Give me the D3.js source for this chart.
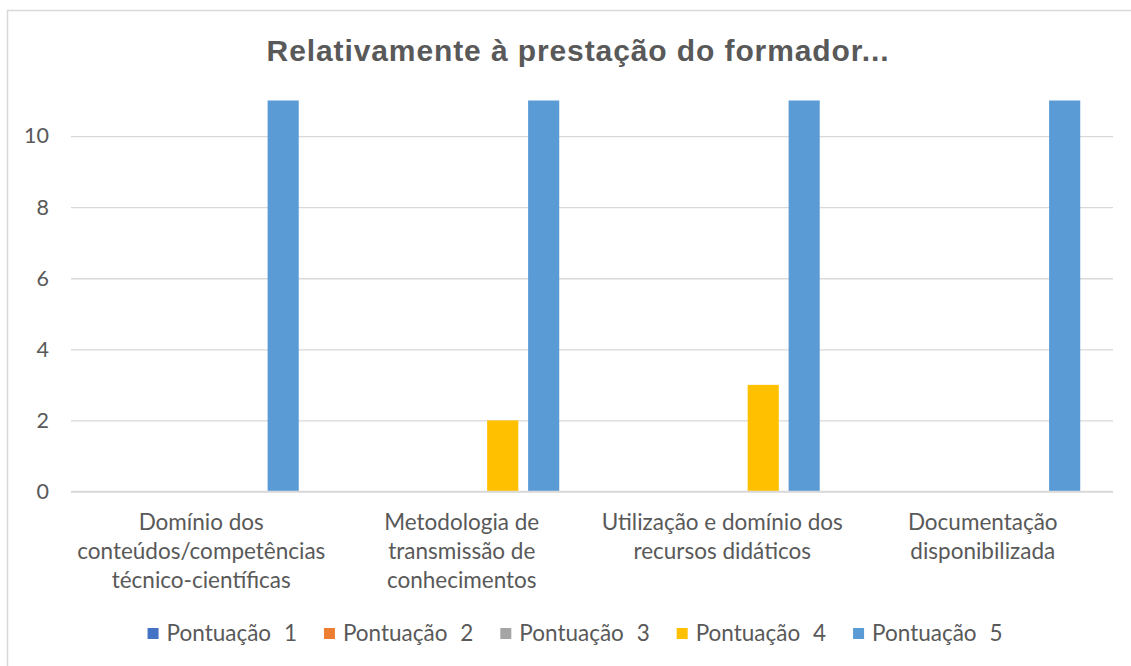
<!DOCTYPE html>
<html><head><meta charset="utf-8">
<script src="https://cdn.jsdelivr.net/npm/d3@7"></script>
<style>body{margin:0;background:#fff}svg{display:block}</style>
</head><body><svg id="chart" width="1131" height="666"></svg>
<script>
// ---- data ----
const chartTitle = "Relativamente à prestação do formador...";
const categories = ["Domínio dos conteúdos/competências técnico-científicas", "Metodologia de transmissão de conhecimentos", "Utilização e domínio dos recursos didáticos", "Documentação disponibilizada"];
const categoryLines = [["Domínio dos", "conteúdos/competências", "técnico-científicas"], ["Metodologia de", "transmissão de", "conhecimentos"], ["Utilização e domínio dos", "recursos didáticos"], ["Documentação", "disponibilizada"]];
const seriesNames = ["Pontuação 1", "Pontuação 2", "Pontuação 3", "Pontuação 4", "Pontuação 5"];
const pontuacao1 = [0, 0, 0, 0];
const pontuacao2 = [0, 0, 0, 0];
const pontuacao3 = [0, 0, 0, 0];
const pontuacao4 = [0, 2, 3, 0];
const pontuacao5 = [11, 11, 11, 11];
const seriesColors = ["#4472C4", "#ED7D31", "#A5A5A5", "#FFC000", "#5B9BD5"];
const yTicks = [0, 2, 4, 6, 8, 10];
const yMax = 11;

const seriesValues = [pontuacao1, pontuacao2, pontuacao3, pontuacao4, pontuacao5];

// ---- layout ----
const svg = d3.select("#chart");
const plot = {left: 71, right: 1113, top: 100.5, bottom: 491.5};
const centerX = 578;
const textColor = "#595959";
const bodyFont = "Lato, 'Open Sans', sans-serif";

// chart border (only top/left visible in the frame)
svg.append("rect").attr("x", 7.5).attr("y", 10.5).attr("width", 1200).attr("height", 700)
  .attr("fill", "#fff").attr("stroke", "#D9D9D9").attr("stroke-width", 1.5);

svg.append("text").attr("x", centerX).attr("y", 61).attr("text-anchor", "middle")
  .attr("font-family", "'Liberation Sans', Arial, sans-serif").attr("font-weight", "bold")
  .attr("font-size", 30).attr("letter-spacing", "0.9px").attr("fill", textColor).text(chartTitle);

const x0 = d3.scaleBand().domain(categories).range([plot.left, plot.right]).paddingInner(0).paddingOuter(0);
const x1 = d3.scaleBand().domain(seriesNames).range([0, x0.bandwidth()]).paddingInner(0.24).paddingOuter(0.8);
const y = d3.scaleLinear().domain([0, yMax]).range([plot.bottom, plot.top]);

// gridlines
const yAxis = d3.axisLeft(y).tickValues(yTicks).tickSize(-(plot.right - plot.left)).tickPadding(22).tickFormat(d3.format("d"));
const gy = svg.append("g").attr("transform", `translate(${plot.left},0)`).call(yAxis);
gy.select(".domain").remove();
gy.selectAll(".tick line").attr("stroke", "#D9D9D9").attr("stroke-width", 1.3);
gy.selectAll(".tick text").attr("font-family", bodyFont).attr("font-size", 21.5).attr("fill", textColor);

// bars
const groups = svg.append("g").selectAll("g").data(categories).join("g")
  .attr("transform", d => `translate(${x0(d)},0)`);
groups.selectAll("rect")
  .data((c, ci) => seriesNames.map((s, si) => ({s, si, v: seriesValues[si][ci]})))
  .join("rect")
  .attr("x", d => x1(d.s)).attr("width", x1.bandwidth())
  .attr("y", d => y(d.v)).attr("height", d => y(0) - y(d.v))
  .attr("fill", d => seriesColors[d.si]);

// baseline redraw
svg.append("line").attr("x1", plot.left).attr("x2", plot.right).attr("y1", y(0)).attr("y2", y(0))
  .attr("stroke", "#D9D9D9").attr("stroke-width", 1.3);

// category labels
const xAxis = d3.axisBottom(x0).tickSize(0).tickFormat("");
const gx = svg.append("g").attr("transform", `translate(0,${plot.bottom})`).call(xAxis);
gx.select(".domain").remove();
gx.selectAll(".tick").each(function(d, i) {
  const t = d3.select(this).append("text").attr("text-anchor", "middle")
    .attr("font-family", bodyFont).attr("font-size", 22.5).attr("fill", textColor);
  categoryLines[i].forEach((line, li) => {
    t.append("tspan").attr("x", 0).attr("y", 38 + li * 29).text(line);
  });
});

// legend
const legend = svg.append("g");
const legendY = 633.5;
const legendGap = 27;
let cursor = 0;
seriesNames.forEach((name, i) => {
  const g = legend.append("g");
  g.append("rect").attr("x", 0).attr("y", legendY - 5.5).attr("width", 11).attr("height", 11).attr("fill", seriesColors[i]);
  const t = g.append("text").attr("x", 19).attr("y", legendY + 7.5).attr("font-family", bodyFont)
    .attr("font-size", 22.5).attr("fill", textColor).style("word-spacing", "7px").text(name);
  const w = 19 + t.node().getComputedTextLength();
  g.attr("transform", `translate(${cursor},0)`);
  cursor += w + legendGap;
});
const legendWidth = cursor - legendGap;
legend.attr("transform", `translate(${centerX - legendWidth / 2 - 3},0)`);
</script></body></html>
